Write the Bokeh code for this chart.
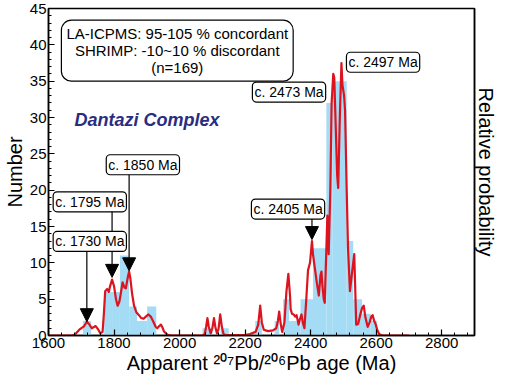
from bokeh.plotting import figure
from bokeh.models import (Range1d, LinearAxis, Label, Arrow, NormalHead,
                          SingleIntervalTicker, FixedTicker, ColumnDataSource)
from bokeh.embed import file_html
from bokeh.resources import INLINE

# ---------------- data ----------------
# histogram bins (Ma) and counts
bin_left = [1705, 1770, 1794, 1818, 1846, 1870, 1901, 2070, 2125, 2231, 2290,
            2316, 2334, 2369, 2407, 2448, 2466, 2510, 2530, 2557, 2583]
bin_right = [1730, 1794, 1818, 1846, 1870, 1901, 1929, 2100, 2150, 2251, 2304,
             2334, 2369, 2407, 2448, 2466, 2510, 2530, 2557, 2583, 2603]
bin_count = [2, 6, 6, 11, 4, 2, 4, 1, 1, 2, 2,
             5, 2, 5, 12, 32, 35, 13, 5, 3, 2]

# relative probability curve (in "Number" units)
prob_age = [1600, 1670, 1680, 1694, 1709, 1717, 1725, 1732, 1744, 1752, 1758,
            1765, 1769, 1773, 1779, 1784, 1788, 1794, 1800, 1806, 1811, 1816,
            1820, 1826, 1832, 1836, 1842, 1846, 1850, 1855, 1861, 1868, 1876,
            1883, 1890, 1897, 1905, 1912, 1920, 1927, 1932, 1938, 1943, 1948,
            1952, 1958, 1964, 1975, 2070, 2077, 2081, 2085, 2089, 2095, 2100,
            2105, 2109, 2114, 2119, 2124, 2129, 2134, 2140, 2200, 2215, 2232,
            2240, 2246, 2251, 2257, 2270, 2285, 2295, 2300, 2304, 2309, 2313,
            2320, 2326, 2332, 2337, 2339, 2343, 2348, 2353, 2357, 2361, 2363,
            2367, 2372, 2376, 2381, 2386, 2392, 2398, 2404, 2407, 2413, 2419,
            2425, 2430, 2433, 2436, 2440, 2443, 2448, 2451, 2455, 2460, 2464,
            2469, 2472, 2477, 2481, 2484, 2489, 2494, 2497, 2502, 2505, 2510,
            2514, 2520, 2526, 2533, 2537, 2539, 2545, 2551, 2557, 2562, 2567,
            2574, 2580, 2585, 2589, 2594, 2598, 2603, 2609, 2618, 2700]
prob_val = [0, 0, 0.1, 0.8, 1.3, 1.9, 1.5, 1.0, 1.3, 0.8, 0.3,
            0.5, 3.0, 6.1, 6.4, 6.0, 6.8, 7.7, 6.8, 5.0, 4.1, 4.6,
            5.6, 7.3, 6.6, 6.5, 8.0, 8.8, 7.8, 5.8, 4.1, 3.2, 2.8,
            2.4, 2.3, 2.6, 2.9, 2.6, 1.9, 1.2, 1.0, 1.3, 1.5, 1.1,
            0.6, 0.3, 0.1, 0, 0, 0.2, 1.2, 2.4, 1.2, 0.3, 1.0,
            2.4, 1.2, 0.3, 0.9, 2.9, 1.2, 0.2, 0.05, 0.05, 0.2, 0.5,
            1.5, 4.1, 1.8, 0.8, 0.6, 0.7, 1.0, 2.0, 3.3, 1.5, 0.5,
            1.8, 6.0, 8.5, 5.5, 3.6, 3.0, 2.9, 2.6, 2.8, 2.0, 1.5,
            2.2, 2.9, 1.8, 1.0, 4.5, 9.0, 10.0, 13.0, 11.2, 9.2, 7.2,
            5.5, 8.3, 8.8, 6.8, 5.0, 4.5, 12.0, 16.5, 11.2, 20.0, 32.0,
            36.0, 35.5, 28.0, 22.0, 20.3, 30.0, 37.5, 34.5, 33.0, 31.0, 20.0,
            12.0, 6.1, 8.5, 11.2, 5.0, 1.5, 1.6, 2.8, 3.8, 4.1, 2.5,
            1.2, 1.8, 2.6, 2.8, 2.0, 1.6, 0.8, 0.2, 0, 0]

peak_labels = ["c. 1730 Ma", "c. 1795 Ma", "c. 1850 Ma", "c. 2405 Ma",
               "c. 2473 Ma", "c. 2497 Ma"]
x_ticks = [1600, 1800, 2000, 2200, 2400, 2600, 2800]
y_ticks = [0, 5, 10, 15, 20, 25, 30, 35, 40, 45]

info_text = "LA-ICPMS: 95-105 % concordant\nSHRIMP: -10~10 % discordant\n(n=169)"
title_text = "Dantazi Complex"

# ---------------- layout of annotations (positions only) ----------------
box_pos = [(1726, 12.95), (1726, 18.4), (1888, 23.5), (2331, 17.4),
           (2334, 33.5), (2621, 37.6)]
arrow_pos = [(1717, 12.0, 1.9), (1794, 17.5, 8.0), (1846, 22.3, 8.9),
             (2404, 16.3, 13.2)]

FONT = "Liberation Sans"

p = figure(width=499, height=376, output_backend="svg", toolbar_location=None,
           x_range=Range1d(1600, 2900), y_range=Range1d(0, 45),
           min_border_top=8, min_border_left=0, min_border_right=0,
           min_border_bottom=0)
p.grid.visible = False
p.background_fill_color = "white"
p.border_fill_color = "white"
p.outline_line_color = "black"
p.outline_line_width = 1.5

for ax, tk in ((p.xaxis, SingleIntervalTicker(interval=200, num_minor_ticks=5)),
               (p.yaxis, SingleIntervalTicker(interval=5, num_minor_ticks=5))):
    ax.ticker = tk
    ax.major_tick_in = 6
    ax.major_tick_out = 0
    ax.minor_tick_in = 3
    ax.minor_tick_out = 0
    ax.axis_line_width = 1.5
    ax.axis_line_color = "black"
    ax.major_tick_line_color = "black"
    ax.minor_tick_line_color = "black"
    ax.major_tick_line_width = 1.2
    ax.major_label_text_font = FONT
    ax.major_label_text_font_size = "15px"
    ax.major_label_text_color = "black"
    ax.axis_label_text_font = FONT
    ax.axis_label_text_font_size = "20px"
    ax.axis_label_text_font_style = "normal"
    ax.axis_label_text_color = "black"
    ax.major_label_standoff = 2
    ax.axis_label_standoff = 1

p.xaxis.axis_label = "Apparent \u00b2\u2070\u2077Pb/\u00b2\u2070\u2076Pb age (Ma)"
p.yaxis.axis_label = "Number"

right = LinearAxis(axis_label="Relative probability", ticker=FixedTicker(ticks=[]),
                   axis_label_text_font=FONT, axis_label_text_font_size="20px",
                   axis_label_text_font_style="normal",
                   axis_label_text_color="black", axis_label_standoff=0,
                   major_label_standoff=0,
                   major_tick_in=0, major_tick_out=0, minor_tick_in=0,
                   minor_tick_out=0, axis_line_width=1.5,
                   axis_line_color="black")
p.add_layout(right, "right")

hist = ColumnDataSource(dict(left=bin_left, right=bin_right, top=bin_count))
p.quad(left="left", right="right", top="top", bottom=0, source=hist,
       fill_color="#A4DBF5", line_color=None)

p.line(prob_age, prob_val, line_color="#DC1420", line_width=2.2,
       line_join="round")

for (xa, y0, y1) in arrow_pos:
    p.add_layout(Arrow(end=NormalHead(size=13, fill_color="black",
                                      line_color="black", line_width=1),
                       x_start=xa, y_start=y0, x_end=xa, y_end=y1,
                       line_color="black", line_width=1.2))

for txt, (bx, by) in zip(peak_labels, box_pos):
    p.add_layout(Label(x=bx, y=by, text=txt, text_align="center",
                       text_baseline="middle", text_font=FONT,
                       text_font_size="14px", text_color="black",
                       border_line_color="black", border_line_width=1.2,
                       background_fill_color="white", padding=2,
                       border_radius=4))

p.add_layout(Label(x=1993, y=39.2, text=info_text, text_align="center",
                   text_baseline="middle", text_font=FONT,
                   text_font_size="15px", text_line_height=1.0,
                   text_color="black",
                   border_line_color="black", border_line_width=1.2,
                   background_fill_color="white", padding=5,
                   border_radius=10))

p.add_layout(Label(x=1679, y=29.6, text=title_text, text_align="left",
                   text_baseline="middle", text_font=FONT,
                   text_font_size="18px", text_font_style="bold italic",
                   text_color="#2A2D7F"))

open("out.html", "w").write(file_html(p, INLINE))
